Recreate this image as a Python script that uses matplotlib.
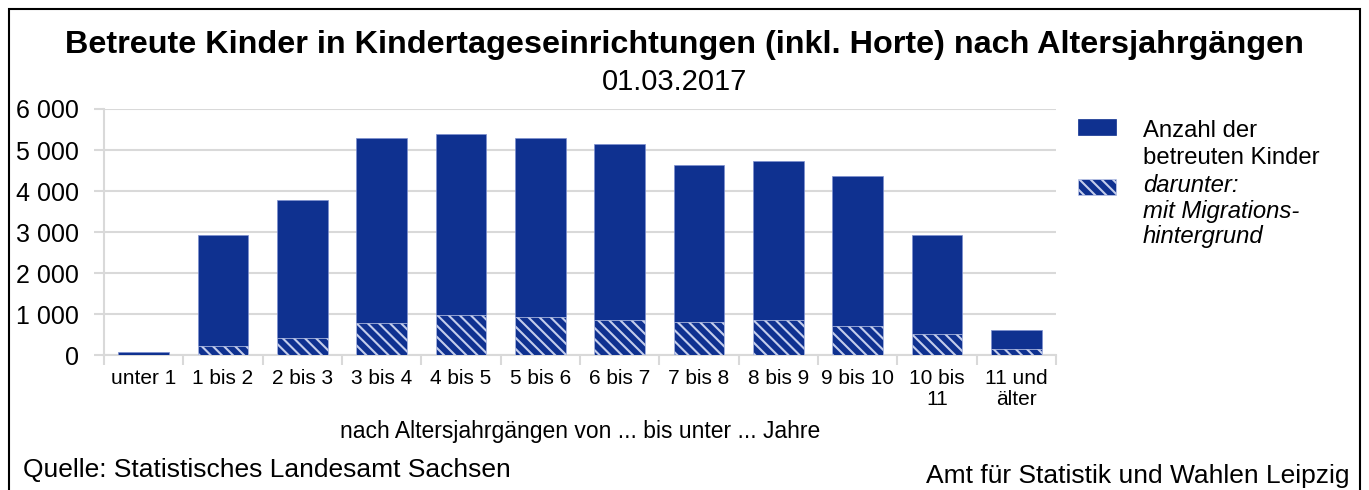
import matplotlib
matplotlib.use("Agg")
import matplotlib.pyplot as plt
from matplotlib.patches import Rectangle
from matplotlib.ticker import FuncFormatter, FixedLocator
import numpy as np

W, H = 1369, 490
BLUE = "#0f3190"
HATCH = "#c4cdeb"
GRID = "#d9d9d9"

plt.rcParams["font.family"] = ["Liberation Sans", "DejaVu Sans"]
plt.rcParams["hatch.linewidth"] = 1.5

categories = ["unter 1", "1 bis 2", "2 bis 3", "3 bis 4", "4 bis 5", "5 bis 6",
              "6 bis 7", "7 bis 8", "8 bis 9", "9 bis 10", "10 bis\n11", "11 und\nälter"]
total = [75, 2930, 3790, 5300, 5400, 5285, 5140, 4635, 4730, 4360, 2930, 610]
migration = [10, 210, 410, 775, 970, 920, 860, 805, 855, 705, 505, 145]
yticks = [0, 1000, 2000, 3000, 4000, 5000, 6000]


def fx(px):
    return px / W


def fy(py):
    return 1 - py / H


fig = plt.figure(figsize=(W / 100, H / 100), dpi=100)
ax = fig.add_axes([fx(104), fy(355), fx(1056) - fx(104), fy(109) - fy(355)])

x = np.arange(len(categories))
ax.bar(x, total, width=0.64, color=BLUE, edgecolor="#7d8fcf", linewidth=0.5, zorder=3)
ax.bar(x, migration, width=0.64, color=BLUE, edgecolor=HATCH, linewidth=0.5,
       hatch="\\\\\\", zorder=4)

ax.set_xlim(-0.5, len(categories) - 0.5)
ax.set_ylim(0, 6000)
ax.set_yticks(yticks)
ax.yaxis.set_major_formatter(FuncFormatter(lambda v, _: f"{int(v):,}".replace(",", " ")))
ax.set_xticks(x)
ax.set_xticklabels(categories, fontsize=15, linespacing=1.15)
ax.xaxis.set_minor_locator(FixedLocator(np.arange(-0.5, len(categories), 1.0)))
ax.tick_params(axis="x", which="major", length=0, pad=10)
ax.tick_params(axis="x", which="minor", length=7, width=1.5, color=GRID)
ax.tick_params(axis="y", length=7, width=1.5, color=GRID, labelsize=18, pad=10.8)
ax.grid(axis="y", color=GRID, linewidth=1.5, zorder=0)
ax.set_axisbelow(True)
for side in ("top", "right"):
    ax.spines[side].set_visible(False)
for side in ("left", "bottom"):
    ax.spines[side].set_color(GRID)
    ax.spines[side].set_linewidth(1.5)

# frame round the whole picture
fig.add_artist(Rectangle((fx(9), -0.05), fx(1360) - fx(9), fy(9) + 0.05,
                         transform=fig.transFigure, fill=False, edgecolor="black", linewidth=1.5))

fig.text(fx(684), fy(53), "Betreute Kinder in Kindertageseinrichtungen (inkl. Horte) nach Altersjahrgängen",
         ha="center", va="baseline", fontsize=23.3, fontweight="bold")
fig.text(fx(675), fy(90), "01.03.2017", ha="center", va="baseline", fontsize=21)
fig.text(fx(580), fy(438), "nach Altersjahrgängen von ... bis unter ... Jahre",
         ha="center", va="baseline", fontsize=16.5)
fig.text(fx(23), fy(477), "Quelle: Statistisches Landesamt Sachsen", ha="left", va="baseline", fontsize=19)
fig.text(fx(1350), fy(483), "Amt für Statistik und Wahlen Leipzig", ha="right", va="baseline", fontsize=19)

# legend drawn by hand
fig.add_artist(Rectangle((fx(1078), fy(135)), fx(38), 16 / H, transform=fig.transFigure,
                         facecolor=BLUE, edgecolor=BLUE, linewidth=0.5))
fig.add_artist(Rectangle((fx(1078), fy(195)), fx(38), 16 / H, transform=fig.transFigure,
                         facecolor=BLUE, edgecolor=HATCH, linewidth=0.5, hatch="\\\\\\"))
legend_lines = [
    ("Anzahl der", 137, "normal"),
    ("betreuten Kinder", 164, "normal"),
    ("darunter:", 192, "italic"),
    ("mit Migrations-", 218, "italic"),
    ("hintergrund", 243, "italic"),
]
for txt, base, style in legend_lines:
    fig.text(fx(1143), fy(base), txt, ha="left", va="baseline", fontsize=17.2, style=style)

fig.savefig("out.png", dpi=100, facecolor="white")
